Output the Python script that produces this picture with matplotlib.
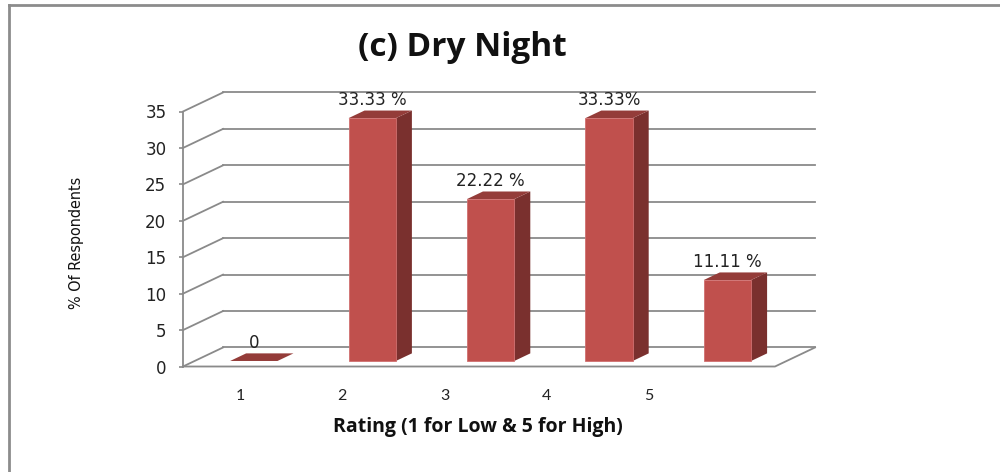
import matplotlib
matplotlib.use("Agg")
import matplotlib.pyplot as plt
from matplotlib.patches import Polygon
from matplotlib.lines import Line2D
import numpy as np

# ---- data ----
categories = [1, 2, 3, 4, 5]
values = [0, 33.33, 22.22, 33.33, 11.11]
value_labels = ["0", "33.33 %", "22.22 %", "33.33%", "11.11 %"]
y_ticks = [0, 5, 10, 15, 20, 25, 30, 35]
title = "(c) Dry Night"
xlabel = "Rating (1 for Low & 5 for High)"
ylabel = "% Of Respondents"

# ---- style / layout ----
W, H = 1000, 472
FRONT = "#C0504D"
SIDE = "#7A302E"
TOP = "#943C39"
GRID = "#8A8A8A"
DX, DY = 0.338, 2.61          # full depth offset in data units
D0, D1 = 0.29, 0.69           # bar depth range (fraction of depth)
BW = 0.40                     # bar width
label_start, label_step = 0.98, 0.864   # category label placement (as in source)

fig = plt.figure(figsize=(W / 100, H / 100), dpi=100)
fig.patch.set_facecolor("white")
ax = fig.add_axes([183 / W, 1 - 366.5 / H, (775 - 183) / W, (366.5 - 111.5) / H])
ax.set_xlim(0.5, 5.5)
ax.set_ylim(0, 35)
ax.patch.set_alpha(0)
for s in ["top", "right", "bottom"]:
    ax.spines[s].set_visible(False)
ax.spines["left"].set_color(GRID)
ax.spines["left"].set_linewidth(1.3)

# walls / grid
x0, x1 = 0.5, 5.5
for v in y_ticks:
    ax.plot([x0 + DX, x1 + DX], [v + DY, v + DY], color=GRID, lw=1.3, clip_on=False, zorder=1)
    ax.plot([x0, x0 + DX], [v, v + DY], color=GRID, lw=1.3, clip_on=False, zorder=1)
ax.plot([x0, x1, x1 + DX], [0, 0, DY], color=GRID, lw=1.3, clip_on=False, zorder=1)

# bars
for c, v, lab in zip(categories, values, value_labels):
    cx = c + D0 * DX
    base = D0 * DY
    l, r = cx - BW / 2, cx + BW / 2
    b, t = base, base + v
    ddx, ddy = (D1 - D0) * DX, (D1 - D0) * DY
    if v > 0:
        ax.add_patch(Polygon([[r, b], [r + ddx, b + ddy], [r + ddx, t + ddy], [r, t]],
                             closed=True, facecolor=SIDE, edgecolor="none", clip_on=False, zorder=3))
        ax.add_patch(Polygon([[l, t], [r, t], [r + ddx, t + ddy], [l + ddx, t + ddy]],
                             closed=True, facecolor=TOP, edgecolor="none", clip_on=False, zorder=3))
        ax.add_patch(Polygon([[l, b], [r, b], [r, t], [l, t]],
                             closed=True, facecolor=FRONT, edgecolor="#D07070", lw=0.6,
                             clip_on=False, zorder=4))
    else:
        ax.add_patch(Polygon([[l, t], [r, t], [r + ddx, t + ddy], [l + ddx, t + ddy]],
                             closed=True, facecolor=TOP, edgecolor="none", clip_on=False, zorder=3))
    ax.annotate(lab, (cx, t), xytext=(0, 13), textcoords="offset points",
                ha="center", va="center", fontsize=12, family="DejaVu Sans",
                color="#222222", zorder=5, annotation_clip=False)

# ticks
ax.set_yticks(y_ticks)
ax.set_yticklabels([str(v) for v in y_ticks], fontsize=12, family="DejaVu Sans", color="#222222")
ax.tick_params(axis="y", length=3, width=1.2, color=GRID, pad=9)
xt = [label_start + (c - categories[0]) * label_step for c in categories]
ax.set_xticks(xt)
ax.set_xticklabels([str(c) for c in categories], fontsize=11.5, family="Lato", color="#222222")
ax.tick_params(axis="x", length=0, pad=16)

# texts
fig.text(0.462, 1 - 47 / H, title, ha="center", va="center", fontsize=24,
         fontweight="bold", family="Open Sans", color="#111111")
fig.text(0.478, 1 - 427 / H, xlabel, ha="center", va="center", fontsize=14,
         fontweight="bold", family="Open Sans", color="#111111")
fig.text(0.077, 1 - 243 / H, ylabel, ha="center", va="center", rotation=90, fontsize=11.5,
         family="DejaVu Sans", fontstretch="condensed", color="#111111")

# outer frame (top and left only)
fig.add_artist(Line2D([9 / W, 1.0], [1 - 5 / H, 1 - 5 / H], transform=fig.transFigure,
                      color="#8C8C8C", lw=2))
fig.add_artist(Line2D([9 / W, 9 / W], [0, 1 - 5 / H], transform=fig.transFigure,
                      color="#8C8C8C", lw=2))

fig.savefig("out.png", dpi=100, facecolor="white")
